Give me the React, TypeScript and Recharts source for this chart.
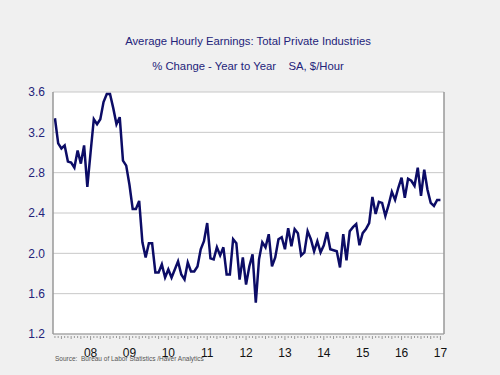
import React from 'react';
import { LineChart, Line, XAxis, YAxis, CartesianGrid } from 'recharts';

// monthly, Feb 2007 .. Jan 2017 (% change year to year)
const earnings = [
  3.34, 3.09, 3.04, 3.07, 2.91, 2.90, 2.85, 3.02, 2.89, 3.07, 2.66,
  3.00, 3.33, 3.28, 3.33, 3.50, 3.58, 3.58, 3.44, 3.28, 3.35, 2.92, 2.87,
  2.68, 2.44, 2.44, 2.52, 2.11, 1.96, 2.10, 2.10, 1.81, 1.81, 1.89, 1.76,
  1.84, 1.76, 1.84, 1.92, 1.79, 1.74, 1.91, 1.82, 1.82, 1.87, 2.04, 2.12,
  2.30, 1.95, 1.94, 2.06, 1.98, 2.06, 1.79, 1.79, 2.14, 2.10, 1.74, 1.96,
  1.69, 1.87, 1.99, 1.51, 1.94, 2.11, 2.06, 2.19, 1.87, 1.96, 2.14, 2.16,
  2.04, 2.25, 2.07, 2.24, 2.20, 1.98, 2.01, 2.22, 2.14, 2.02, 2.12, 2.01,
  2.08, 2.21, 2.04, 2.03, 2.02, 1.86, 2.19, 1.93, 2.22, 2.26, 2.29, 2.08,
  2.20, 2.24, 2.30, 2.56, 2.39, 2.51, 2.50, 2.37, 2.48, 2.61, 2.53, 2.65,
  2.75, 2.55, 2.74, 2.72, 2.67, 2.85, 2.57, 2.83, 2.63, 2.50, 2.47, 2.53,
  2.53,
];
const yearLabels = ['08', '09', '10', '11', '12', '13', '14', '15', '16', '17'];
const yTicks = [1.2, 1.6, 2.0, 2.4, 2.8, 3.2, 3.6];
const firstMonth = 1; // Feb

const data = earnings.map((v, i) => ({ i, v }));
const monthTicks = earnings.map((_, i) => i);

const NAVY = '#23237a';
const LINE = '#0c0c66';

const MonthTick = (props: any) => {
  const { x, y, payload } = props;
  const i = payload.value;
  const m = (firstMonth + i) % 12;
  const len = m === 0 ? 4 : m % 3 === 0 ? 3 : 2;
  const label = m === 0 ? yearLabels[(i - (12 - firstMonth)) / 12] : null;
  return (
    <g>
      <line x1={x} x2={x} y1={y} y2={y + len} stroke="#999" strokeWidth={1} />
      {label && (
        <text x={x} y={y + 21} textAnchor="middle" fontSize={12} fill="#111"
          fontFamily="Liberation Sans, Arial, sans-serif">{label}</text>
      )}
    </g>
  );
};

export default function App() {
  const font = 'Liberation Sans, Arial, sans-serif';
  return (
    <div style={{ position: 'fixed', left: 0, top: 0, width: 500, height: 375, background: '#f0f0f0', fontFamily: font }}>
      <div style={{ position: 'absolute', top: 35, width: 496, textAlign: 'center', fontSize: 11.3, color: NAVY }}>
        Average Hourly Earnings: Total Private Industries
      </div>
      <div style={{ position: 'absolute', top: 60, width: 496, textAlign: 'center', fontSize: 11.3, color: NAVY, whiteSpace: 'pre' }}>
        {'% Change - Year to Year    SA, $/Hour'}
      </div>
      <LineChart width={500} height={375} data={data} margin={{ top: 92, right: 0, bottom: 0, left: 0 }}>
        <CartesianGrid yAxisId="left" vertical={false} stroke="#c8c8c8" fill="#fff" />
        <XAxis dataKey="i" type="number" domain={[-0.6, 120.1]} allowDataOverflow ticks={monthTicks}
          interval={0} tick={<MonthTick />} tickLine={false} tickSize={0} height={41}
          axisLine={{ stroke: '#999' }} />
        <YAxis yAxisId="left" domain={[1.2, 3.6]} ticks={yTicks} width={53} tickLine={false}
          tickSize={0} tickMargin={8} axisLine={{ stroke: '#999', strokeWidth: 1.5 }}
          tickFormatter={(v: number) => v.toFixed(1)}
          tick={{ fill: NAVY, fontSize: 12, fontFamily: font }} />
        <YAxis yAxisId="right" orientation="right" domain={[1.2, 3.6]} ticks={yTicks} width={56}
          tickLine={false} tickSize={0} tickMargin={7} axisLine={{ stroke: '#999', strokeWidth: 1.5 }}
          tickFormatter={(v: number) => v.toFixed(1)}
          tick={{ fill: NAVY, fontSize: 12, fontFamily: font }} />
        <Line yAxisId="left" dataKey="v" type="linear" stroke={LINE} strokeWidth={2.5} dot={false}
          isAnimationActive={false} />
      </LineChart>
      <div style={{ position: 'absolute', left: 55, top: 355, fontSize: 6.5, color: '#555', whiteSpace: 'pre' }}>
        {'Source:  Bureau of Labor Statistics /Haver Analytics'}
      </div>
    </div>
  );
}
